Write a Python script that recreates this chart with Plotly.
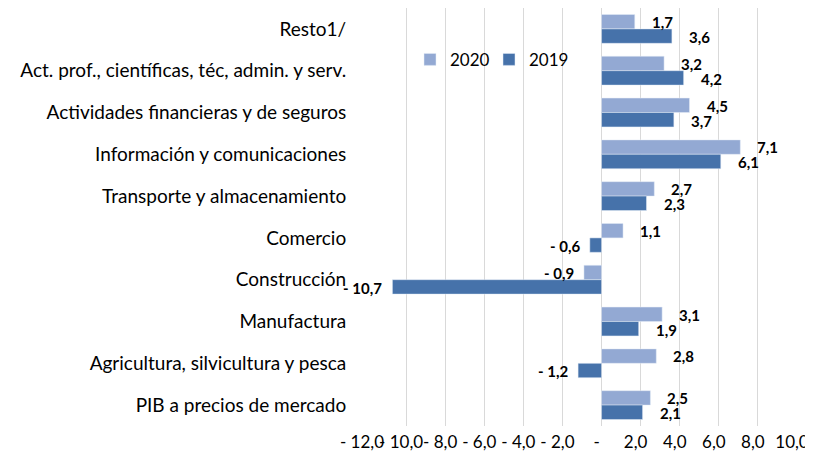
import plotly.graph_objects as go

categories = [
    "Resto1/",
    "Act. prof., científicas, téc, admin. y serv.",
    "Actividades financieras y de seguros",
    "Información y comunicaciones",
    "Transporte y almacenamiento",
    "Comercio",
    "Construcción",
    "Manufactura",
    "Agricultura, silvicultura y pesca",
    "PIB a precios de mercado",
]
values_2020 = [1.7, 3.2, 4.5, 7.1, 2.7, 1.1, -0.9, 3.1, 2.8, 2.5]
values_2019 = [3.6, 4.2, 3.7, 6.1, 2.3, -0.6, -10.7, 1.9, -1.2, 2.1]
x_tickvals = [-12, -10, -8, -6, -4, -2, 0, 2, 4, 6, 8, 10]
x_ticktext = ["- 12,0", "- 10,0", "- 8,0", "- 6,0", "- 4,0", "- 2,0", "-",
              "2,0", "4,0", "6,0", "8,0", "10,0"]

COLOR_2020 = "#93A9D3"
COLOR_2019 = "#4672AA"
FONT = "Lato, Calibri, Arial, sans-serif"


def fmt(v):
    s = f"{abs(v):.1f}".replace(".", ",")
    return ("- " + s) if v < 0 else s


fig = go.Figure()
fig.add_trace(go.Bar(y=categories, x=values_2020, name="2020", orientation="h",
                     marker=dict(color=COLOR_2020)))
fig.add_trace(go.Bar(y=categories, x=values_2019, name="2019", orientation="h",
                     marker=dict(color=COLOR_2019)))

annotations = []
for series, yshift in ((values_2020, 7), (values_2019, -8)):
    for cat, v in zip(categories, series):
        annotations.append(dict(
            x=v, y=cat, xref="x", yref="y", text=fmt(v), showarrow=False,
            xanchor="left" if v >= 0 else "right",
            xshift=15 if v >= 0 else -8, yshift=yshift,
            font=dict(family=FONT, size=15, color="#000000", weight="bold"),
        ))

# the page body has an 8px default margin; size the figure to fit the window
fig.update_layout(
    width=805, height=448,
    margin=dict(l=359, r=16, t=0, b=30),
    paper_bgcolor="white", plot_bgcolor="white",
    barmode="group", bargap=0.31, bargroupgap=0,
    font=dict(family=FONT, size=19, color="#000000"),
    showlegend=True,
    legend=dict(orientation="h", x=0.1, y=0.876, xanchor="left", yanchor="middle",
                bgcolor="rgba(0,0,0,0)", font=dict(size=17, color="#000000"),
                entrywidth=34, entrywidthmode="pixels", traceorder="normal"),
    annotations=annotations,
)
fig.update_xaxes(range=[-12, 10], tickvals=x_tickvals, ticktext=x_ticktext,
                 tickangle=0, ticklabeloverflow="allow", ticklabelshift=-5,
                 showgrid=True, gridcolor="#D9D9D9", gridwidth=1,
                 zeroline=True, zerolinecolor="#D9D9D9", zerolinewidth=1,
                 showline=False, ticks="outside", ticklen=1,
                 tickcolor="rgba(0,0,0,0)", automargin=False,
                 tickfont=dict(size=17))
fig.update_yaxes(autorange="reversed", showgrid=False, showline=False,
                 ticks="outside", ticklen=16, tickcolor="rgba(0,0,0,0)",
                 automargin=False, tickfont=dict(size=19))

fig.write_html("out.html")
